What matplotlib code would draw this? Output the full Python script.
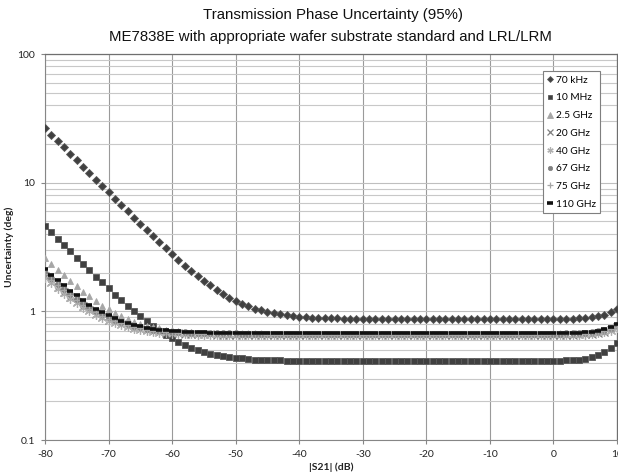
import matplotlib
matplotlib.use("Agg")
import matplotlib.pyplot as plt
from matplotlib.ticker import LogLocator, NullFormatter, FixedLocator, FixedFormatter
import numpy as np

plt.rcParams["axes.unicode_minus"] = False   # Excel style hyphen minus

# |S21| in dB, 1 dB steps from -80 to 10
s21_db = list(range(-80, 11))

u_70khz = [26.5, 23.6, 21.0, 18.8, 16.7, 14.9, 13.3, 11.8, 10.5, 9.43,
           8.42, 7.51, 6.71, 5.99, 5.35, 4.79, 4.29, 3.84, 3.44, 3.09,
           2.79, 2.52, 2.27, 2.06, 1.88, 1.73, 1.59, 1.47, 1.36, 1.28,
           1.21, 1.15, 1.10, 1.05, 1.02, 0.99, 0.966, 0.946, 0.931, 0.920,
           0.909, 0.901, 0.895, 0.890, 0.886, 0.883, 0.880, 0.878, 0.876, 0.875,
           0.874, 0.873, 0.872, 0.872, 0.871, 0.871, 0.871, 0.870, 0.870, 0.870,
           0.870, 0.870, 0.870, 0.870, 0.870, 0.870, 0.870, 0.870, 0.870, 0.870,
           0.870, 0.870, 0.870, 0.870, 0.870, 0.870, 0.870, 0.870, 0.870, 0.870,
           0.872, 0.873, 0.875, 0.877, 0.882, 0.888, 0.899, 0.916, 0.942, 0.981,
           1.04]

u_10mhz = [4.60, 4.10, 3.66, 3.27, 2.92, 2.61, 2.34, 2.09, 1.86, 1.68,
           1.51, 1.35, 1.22, 1.10, 1.00, 0.912, 0.834, 0.766, 0.708, 0.657,
           0.615, 0.578, 0.548, 0.522, 0.501, 0.484, 0.470, 0.458, 0.448, 0.441,
           0.435, 0.430, 0.426, 0.422, 0.420, 0.418, 0.416, 0.415, 0.414, 0.413,
           0.412, 0.412, 0.411, 0.411, 0.411, 0.410, 0.410, 0.410, 0.410, 0.410,
           0.410, 0.410, 0.410, 0.410, 0.410, 0.410, 0.410, 0.410, 0.410, 0.410,
           0.410, 0.410, 0.410, 0.410, 0.410, 0.410, 0.410, 0.410, 0.410, 0.410,
           0.410, 0.410, 0.410, 0.410, 0.410, 0.410, 0.410, 0.410, 0.410, 0.410,
           0.412, 0.413, 0.415, 0.418, 0.422, 0.429, 0.439, 0.455, 0.480, 0.517,
           0.570]

u_2g5 = [2.60, 2.34, 2.11, 1.90, 1.72, 1.56, 1.42, 1.31, 1.20, 1.11,
         1.036, 0.972, 0.917, 0.871, 0.833, 0.801, 0.775, 0.754, 0.736, 0.722,
         0.711, 0.702, 0.694, 0.688, 0.683, 0.680, 0.677, 0.674, 0.672, 0.671,
         0.670, 0.669, 0.668, 0.667, 0.667, 0.666, 0.666, 0.665, 0.665, 0.665,
         0.665, 0.665, 0.665, 0.665, 0.665, 0.665, 0.665, 0.665, 0.665, 0.665,
         0.665, 0.665, 0.665, 0.665, 0.665, 0.665, 0.665, 0.665, 0.665, 0.665,
         0.665, 0.665, 0.665, 0.665, 0.665, 0.665, 0.665, 0.665, 0.665, 0.665,
         0.665, 0.665, 0.665, 0.665, 0.665, 0.665, 0.665, 0.665, 0.665, 0.665,
         0.666, 0.667, 0.668, 0.669, 0.672, 0.676, 0.683, 0.693, 0.709, 0.733,
         0.770]

u_20g = [1.88, 1.70, 1.55, 1.41, 1.29, 1.19, 1.10, 1.025, 0.959, 0.906,
         0.860, 0.822, 0.791, 0.765, 0.743, 0.726, 0.712, 0.701, 0.691, 0.684,
         0.678, 0.674, 0.670, 0.667, 0.664, 0.662, 0.661, 0.660, 0.659, 0.658,
         0.658, 0.657, 0.657, 0.656, 0.656, 0.655, 0.655, 0.655, 0.655, 0.655,
         0.655, 0.655, 0.655, 0.655, 0.655, 0.655, 0.655, 0.655, 0.655, 0.655,
         0.655, 0.655, 0.655, 0.655, 0.655, 0.655, 0.655, 0.655, 0.655, 0.655,
         0.655, 0.655, 0.655, 0.655, 0.655, 0.655, 0.655, 0.655, 0.655, 0.655,
         0.655, 0.655, 0.655, 0.655, 0.655, 0.655, 0.655, 0.655, 0.655, 0.655,
         0.656, 0.657, 0.658, 0.659, 0.661, 0.665, 0.671, 0.680, 0.695, 0.717,
         0.750]

u_40g = [1.82, 1.65, 1.50, 1.37, 1.25, 1.16, 1.07, 1.00, 0.938, 0.887,
         0.844, 0.807, 0.778, 0.753, 0.733, 0.717, 0.704, 0.693, 0.684, 0.677,
         0.672, 0.667, 0.664, 0.661, 0.659, 0.657, 0.656, 0.654, 0.654, 0.653,
         0.652, 0.652, 0.651, 0.651, 0.650, 0.650, 0.650, 0.650, 0.650, 0.650,
         0.650, 0.650, 0.650, 0.650, 0.650, 0.650, 0.650, 0.650, 0.650, 0.650,
         0.650, 0.650, 0.650, 0.650, 0.650, 0.650, 0.650, 0.650, 0.650, 0.650,
         0.650, 0.650, 0.650, 0.650, 0.650, 0.650, 0.650, 0.650, 0.650, 0.650,
         0.650, 0.650, 0.650, 0.650, 0.650, 0.650, 0.650, 0.650, 0.650, 0.650,
         0.651, 0.652, 0.652, 0.654, 0.656, 0.660, 0.665, 0.674, 0.687, 0.709,
         0.740]

u_67g = [2.00, 1.81, 1.64, 1.49, 1.37, 1.25, 1.16, 1.08, 1.005, 0.947,
         0.897, 0.855, 0.820, 0.792, 0.768, 0.749, 0.734, 0.721, 0.711, 0.703,
         0.696, 0.691, 0.687, 0.683, 0.681, 0.678, 0.677, 0.676, 0.674, 0.673,
         0.673, 0.672, 0.671, 0.671, 0.670, 0.670, 0.670, 0.670, 0.670, 0.670,
         0.670, 0.670, 0.670, 0.670, 0.670, 0.670, 0.670, 0.670, 0.670, 0.670,
         0.670, 0.670, 0.670, 0.670, 0.670, 0.670, 0.670, 0.670, 0.670, 0.670,
         0.670, 0.670, 0.670, 0.670, 0.670, 0.670, 0.670, 0.670, 0.670, 0.670,
         0.670, 0.670, 0.670, 0.670, 0.670, 0.670, 0.670, 0.670, 0.670, 0.670,
         0.671, 0.672, 0.673, 0.675, 0.678, 0.682, 0.688, 0.699, 0.716, 0.741,
         0.780]

u_75g = [1.95, 1.76, 1.60, 1.46, 1.33, 1.23, 1.13, 1.05, 0.984, 0.927,
         0.879, 0.838, 0.805, 0.778, 0.755, 0.736, 0.721, 0.709, 0.699, 0.692,
         0.685, 0.680, 0.676, 0.673, 0.670, 0.668, 0.667, 0.665, 0.664, 0.664,
         0.663, 0.662, 0.662, 0.661, 0.661, 0.660, 0.660, 0.660, 0.660, 0.660,
         0.660, 0.660, 0.660, 0.660, 0.660, 0.660, 0.660, 0.660, 0.660, 0.660,
         0.660, 0.660, 0.660, 0.660, 0.660, 0.660, 0.660, 0.660, 0.660, 0.660,
         0.660, 0.660, 0.660, 0.660, 0.660, 0.660, 0.660, 0.660, 0.660, 0.660,
         0.660, 0.660, 0.660, 0.660, 0.660, 0.660, 0.660, 0.660, 0.660, 0.660,
         0.661, 0.662, 0.663, 0.665, 0.667, 0.671, 0.677, 0.687, 0.702, 0.725,
         0.760]

u_110g = [2.14, 1.93, 1.75, 1.59, 1.45, 1.33, 1.22, 1.13, 1.05, 0.988,
          0.932, 0.885, 0.846, 0.814, 0.787, 0.766, 0.748, 0.734, 0.722, 0.713,
          0.705, 0.699, 0.694, 0.690, 0.687, 0.685, 0.683, 0.681, 0.680, 0.679,
          0.678, 0.677, 0.677, 0.676, 0.676, 0.675, 0.675, 0.675, 0.675, 0.675,
          0.675, 0.675, 0.675, 0.675, 0.675, 0.675, 0.675, 0.675, 0.675, 0.675,
          0.675, 0.675, 0.675, 0.675, 0.675, 0.675, 0.675, 0.675, 0.675, 0.675,
          0.675, 0.675, 0.675, 0.675, 0.675, 0.675, 0.675, 0.675, 0.675, 0.675,
          0.675, 0.675, 0.675, 0.675, 0.675, 0.675, 0.675, 0.675, 0.675, 0.675,
          0.677, 0.677, 0.679, 0.681, 0.684, 0.689, 0.696, 0.709, 0.727, 0.756,
          0.800]

x_ticks = [-80, -70, -60, -50, -40, -30, -20, -10, 0, 10]
y_ticks = [0.1, 1, 10, 100]
y_tick_labels = ["0.1", "1", "10", "100"]

# marker styling per series (Excel-like greys)
series = [
    ("70 kHz",  u_70khz, dict(marker="D", ms=4.0, mfc="#404040", mec="#595959", mew=0.6)),
    ("10 MHz",  u_10mhz, dict(marker="s", ms=4.3, mfc="#404040", mec="#595959", mew=0.6)),
    ("2.5 GHz", u_2g5,   dict(marker="^", ms=5.0, mfc="#a6a6a6", mec="#a6a6a6", mew=0.6)),
    ("20 GHz",  u_20g,   dict(marker="x", ms=5.5, mfc="none", mec="#7f7f7f", mew=0.9)),
    ("40 GHz",  u_40g,   dict(marker=(6, 2, 0), ms=6.0, mfc="none", mec="#b0b0b0", mew=0.9)),
    ("67 GHz",  u_67g,   dict(marker="o", ms=4.2, mfc="#808080", mec="#808080", mew=0.5)),
    ("75 GHz",  u_75g,   dict(marker="+", ms=6.0, mfc="none", mec="#a6a6a6", mew=0.9)),
    ("110 GHz", u_110g,  dict(marker="_", ms=5.0, mfc="#111111", mec="#111111", mew=2.6)),
]

TICK_FONT = ["Lato", "DejaVu Sans"]

fig = plt.figure(figsize=(6.18, 4.76), dpi=100)
fig.patch.set_facecolor("white")
ax = fig.add_axes([45 / 618, 36 / 476, 572 / 618, 386 / 476])

for name, vals, style in series:
    ax.plot(s21_db, vals, linestyle="none", label=name, zorder=3, **style)

ax.set_yscale("log")
ax.set_xlim(-80, 10)
ax.set_ylim(0.1, 100)

ax.xaxis.set_major_locator(FixedLocator(x_ticks))
ax.yaxis.set_major_locator(FixedLocator(y_ticks))
ax.yaxis.set_major_formatter(FixedFormatter(y_tick_labels))
ax.yaxis.set_minor_locator(LogLocator(base=10, subs=np.arange(2, 10)))
ax.yaxis.set_minor_formatter(NullFormatter())

ax.grid(axis="x", which="major", color="#9a9a9a", linewidth=0.8, zorder=0)
ax.grid(axis="y", which="major", color="#bfbfbf", linewidth=0.8, zorder=0)
ax.grid(axis="y", which="minor", color="#c8c8c8", linewidth=0.8, zorder=0)
ax.set_axisbelow(True)

for side in ["left", "bottom"]:
    ax.spines[side].set_color("#868686")
    ax.spines[side].set_linewidth(0.8)
ax.spines["top"].set_color("#6f6f6f")
ax.spines["top"].set_linewidth(0.9)
ax.spines["right"].set_color("#6f6f6f")
ax.spines["right"].set_linewidth(0.9)

ax.tick_params(axis="both", which="major", direction="out", length=3,
               color="#868686", labelsize=7.5, labelcolor="#222222", pad=4)
ax.tick_params(axis="y", which="minor", length=0)
for lbl in ax.get_xticklabels() + ax.get_yticklabels():
    lbl.set_fontfamily(TICK_FONT)

ax.set_xlabel("|S21| (dB)", fontsize=7.5, fontweight="bold",
              family=TICK_FONT, color="#222222", labelpad=3)
ax.set_ylabel("Uncertainty (deg)", fontsize=7.5, fontweight="bold",
              family=TICK_FONT, color="#222222")
ax.yaxis.set_label_coords(-31 / 572, 0.5)

fig.text(333 / 618, 1 - 15 / 476, "Transmission Phase Uncertainty (95%)",
         ha="center", va="center", fontsize=10.8, family="Liberation Sans",
         color="#111111")
fig.text(330 / 618, 1 - 37 / 476,
         "ME7838E with appropriate wafer substrate standard and LRL/LRM",
         ha="center", va="center", fontsize=10.8, family="Liberation Sans",
         color="#111111")

leg = ax.legend(loc="upper left", bbox_to_anchor=(543 / 618, 1 - 71 / 476),
                bbox_transform=fig.transFigure, numpoints=1,
                prop={"family": TICK_FONT, "size": 7.3},
                handlelength=0.5, handletextpad=0.3, labelspacing=0.85,
                borderpad=0.45, borderaxespad=0, fancybox=False,
                framealpha=1, edgecolor="#7f7f7f", markerscale=0.75)
leg.get_frame().set_linewidth(0.8)

fig.savefig("out.png", dpi=100, facecolor="white")
